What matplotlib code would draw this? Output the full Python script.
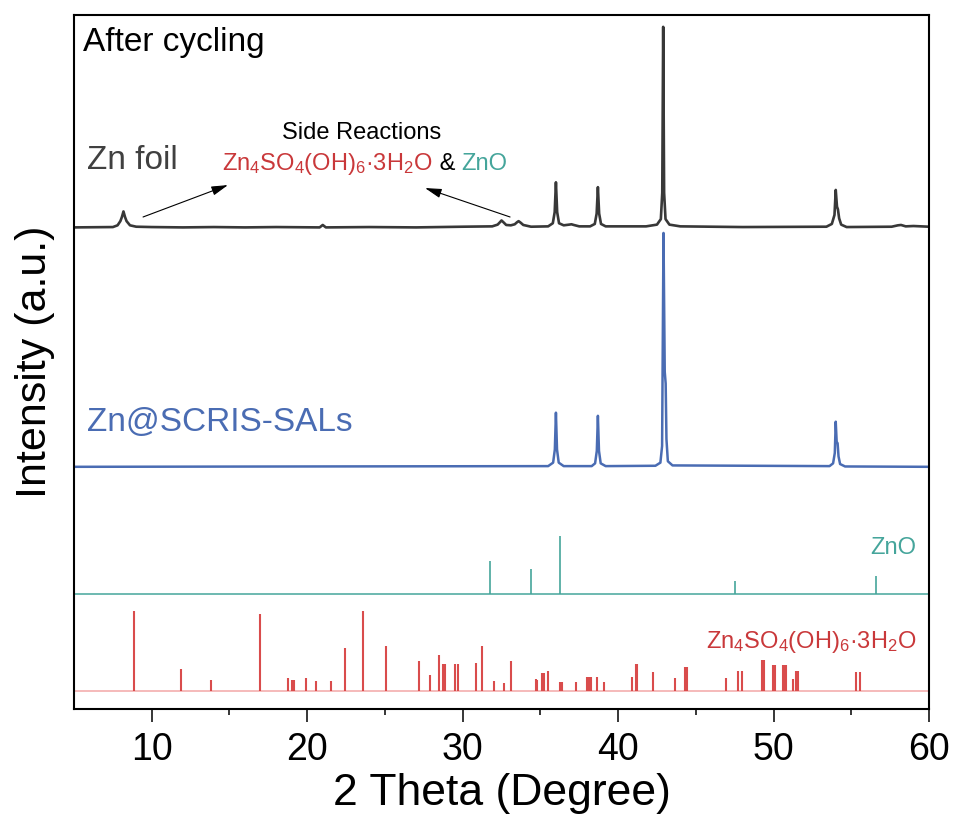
"""
XRD patterns after cycling: Zn foil vs Zn@SCRIS-SALs, with reference sticks
"""

import matplotlib
matplotlib.use('Agg')
import matplotlib.pyplot as plt

plt.rcParams['font.family'] = ['Liberation Sans', 'DejaVu Sans']
plt.rcParams['mathtext.fontset'] = 'custom'
plt.rcParams['mathtext.rm'] = 'Liberation Sans'
plt.rcParams['mathtext.it'] = 'Liberation Sans'

# Zn foil pattern (2theta, intensity above its own baseline)
foil_2theta = [5.0, 7.5, 7.8, 7.98, 8.08, 8.18, 8.28, 8.38, 8.6, 9.0, 10.0, 12.0, 14.0,
               16.0, 18.0, 20.8, 21.0, 21.2, 24.0, 27.0, 30.0, 31.9, 32.25, 32.4, 32.5,
               32.62, 32.8, 33.1, 33.35, 33.5, 33.6, 33.72, 33.9, 34.4, 35.5, 35.8,
               35.92, 36.0, 36.08, 36.2, 36.5, 36.85, 37.0, 37.15, 37.5, 38.2, 38.5,
               38.62, 38.7, 38.78, 38.9, 39.2, 41.8, 42.5, 42.75, 42.84, 42.9, 42.96,
               43.05, 43.3, 44.0, 48.0, 53.4, 53.75, 53.92, 54.0, 54.08, 54.14, 54.22,
               54.35, 54.7, 57.6, 58.0, 58.2, 58.5, 59.0, 60.0]
foil_int = [0.0, 0.05, 0.3, 0.9, 1.5, 2.3, 1.5, 0.9, 0.3, 0.1, 0.05, 0.0, 0.05,
            0.0, 0.05, 0.0, 0.35, 0.0, 0.05, 0.0, 0.1, 0.15, 0.4, 0.75, 1.0,
            0.75, 0.35, 0.3, 0.45, 0.75, 0.9, 0.7, 0.35, 0.1, 0.15, 0.6,
            2.2, 6.5, 2.2, 0.6, 0.3, 0.4, 0.45, 0.35, 0.15, 0.15, 0.5,
            2.0, 5.8, 2.0, 0.5, 0.15, 0.15, 0.4, 1.2, 5.0, 28.9, 5.0,
            1.2, 0.4, 0.15, 0.05, 0.1, 0.5, 1.8, 5.4, 3.0, 2.6, 1.3,
            0.4, 0.05, 0.1, 0.3, 0.35, 0.15, 0.2, 0.1]

# Zn@SCRIS-SALs pattern
sals_2theta = [5.0, 20.0, 35.5, 35.82, 35.93, 36.0, 36.07, 36.18, 36.5, 38.3, 38.52,
               38.63, 38.7, 38.77, 38.88, 39.2, 42.4, 42.72, 42.83, 42.92, 43.0, 43.06,
               43.11, 43.2, 43.5, 53.6, 53.83, 53.94, 54.0, 54.06, 54.12, 54.18, 54.28,
               54.6, 60.0]
sals_int = [0.0, 0.05, 0.1, 0.6, 2.5, 7.8, 2.5, 0.6, 0.1, 0.1, 0.5,
            2.3, 7.35, 2.3, 0.5, 0.1, 0.15, 0.6, 3.0, 33.7, 13.7, 12.0,
            4.0, 0.8, 0.2, 0.1, 0.5, 2.0, 6.5, 3.6, 3.4, 1.5, 0.4,
            0.05, 0.0]

# ZnO reference sticks
zno_pos = [31.75, 34.41, 36.23, 47.53, 56.57]
zno_int = [4.75, 3.6, 8.36, 1.9, 2.65]

# Zn4SO4(OH)6·3H2O reference sticks
zhs_pos = [8.84, 11.88, 13.81, 16.94, 18.78, 19.04, 19.15, 19.9, 20.54, 21.55, 22.4, 23.6,
           25.1, 27.2, 27.93, 28.45, 28.75, 28.88, 29.48, 29.67, 30.87, 31.26, 32.0,
           32.68, 33.14, 34.7, 34.8, 35.13, 35.24, 35.5, 36.27, 36.38, 37.32, 38.0,
           38.1, 38.23, 38.65, 39.12, 40.9, 41.12, 41.2, 42.25, 43.69, 44.33, 44.44,
           46.93, 47.74, 48.0, 49.28, 49.37, 49.97, 50.1, 50.6, 50.68, 50.8, 51.26,
           51.43, 51.58, 55.3, 55.55]
zhs_int = [11.57, 3.17, 1.59, 11.1, 1.87, 1.59, 1.59, 1.92, 1.48, 1.44, 6.24, 11.57,
           6.53, 4.32, 2.3, 5.19, 3.89, 3.89, 3.89, 3.89, 4.03, 6.48, 1.48,
           1.22, 4.32, 1.73, 1.59, 2.59, 2.59, 2.88, 1.3, 1.3, 1.3, 2.06,
           2.06, 2.06, 2.0, 1.3, 2.06, 3.9, 3.9, 2.78, 1.87, 3.46, 3.46,
           1.87, 2.88, 2.88, 4.47, 4.47, 3.75, 3.75, 3.75, 3.75, 3.75, 1.73,
           2.88, 2.88, 2.78, 2.78]

# vertical offsets of each pattern
offset_foil = 69.4
offset_sals = 34.9
offset_zno = 16.57
offset_zhs = 2.59

c_foil = '#383838'
c_sals = '#4a6cb3'
c_zno = '#45a59b'
c_zhs = '#d94c4c'
c_zhs_text = '#c9383a'

fig = plt.figure(figsize=(9.54, 8.14), dpi=100)
ax = fig.add_axes([0.0776, 0.129, 0.8962, 0.8525])

ax.plot(foil_2theta, [v + offset_foil for v in foil_int], color=c_foil, lw=1.9,
        solid_joinstyle='round')
ax.plot(sals_2theta, [v + offset_sals for v in sals_int], color=c_sals, lw=1.8,
        solid_joinstyle='round')

ax.axhline(offset_zno, color=c_zno, lw=1.1)
ax.vlines(zno_pos, offset_zno, [v + offset_zno for v in zno_int], color=c_zno, lw=1.2)

ax.axhline(offset_zhs, color='#f2a7a7', lw=1.1)
ax.vlines(zhs_pos, offset_zhs, [v + offset_zhs for v in zhs_int], color=c_zhs, lw=1.5)

ax.set_xlim(5, 60)
ax.set_ylim(0, 100)
ax.set_yticks([])
ax.set_xticks([10, 20, 30, 40, 50, 60])
ax.set_xticks([15, 25, 35, 45, 55], minor=True)
ax.tick_params(axis='x', which='major', direction='out', length=9.5, width=1.1,
               labelsize=27, pad=7)
ax.tick_params(axis='x', which='minor', direction='out', length=4.5, width=1.1)
for sp in ax.spines.values():
    sp.set_linewidth(1.5)

ax.set_xlabel('2 Theta (Degree)', fontsize=32, labelpad=4)
ax.set_ylabel('Intensity (a.u.)', fontsize=31, labelpad=14)

# labels
ax.text(5.58, 96.1, 'After cycling', fontsize=24, color='black', va='center', ha='left')
ax.text(5.84, 79.0, 'Zn foil', fontsize=24, color='#404040', va='center', ha='left')
ax.text(5.84, 41.35, 'Zn@SCRIS-SALs', fontsize=24, color=c_sals, va='center', ha='left')
ax.text(59.2, 23.2, 'ZnO', fontsize=17, color=c_zno, va='center', ha='right')
ax.text(59.2, 9.65, r'Zn$_4$SO$_4$(OH)$_6$·3H$_2$O', fontsize=17, color=c_zhs_text,
        va='center', ha='right')

# side reaction annotation
ax.text(23.53, 83.0, 'Side Reactions', fontsize=17, color='black', va='center', ha='center')
t1 = ax.text(14.52, 77.67, r'Zn$_4$SO$_4$(OH)$_6$·3H$_2$O', fontsize=17, color=c_zhs_text,
             va='baseline', ha='left')
fig.canvas.draw()
rend = fig.canvas.get_renderer()
inv = ax.transData.inverted()
x_end = inv.transform((t1.get_window_extent(rend).x1, 0))[0]
t2 = ax.text(x_end, 77.67, ' & ', fontsize=17, color='black', va='baseline', ha='left')
x_end = inv.transform((t2.get_window_extent(rend).x1, 0))[0]
ax.text(x_end, 77.67, 'ZnO', fontsize=17, color=c_zno, va='baseline', ha='left')

arrow = dict(arrowstyle='-|>,head_length=1.0,head_width=0.28', color='black', lw=0.8,
             shrinkA=0, shrinkB=0)
ax.annotate('', xy=(14.9, 75.5), xytext=(9.44, 70.9), arrowprops=arrow)
ax.annotate('', xy=(27.58, 75.07), xytext=(33.05, 70.9), arrowprops=arrow)

fig.savefig('out.png', dpi=100)
plt.close(fig)
